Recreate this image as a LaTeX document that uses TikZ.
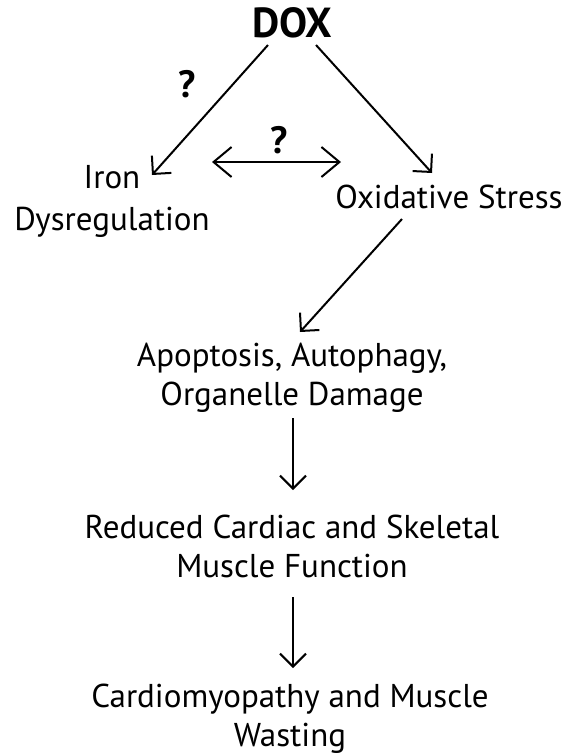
\documentclass[tikz,border=0pt]{standalone}
\usepackage{fontspec}
\setmainfont{PT Sans}
\usetikzlibrary{arrows.meta}

\begin{document}
\begin{tikzpicture}[x=1pt, y=-1pt,
    lbl/.style={font=\fontsize{33}{39}\selectfont, align=center, inner sep=0pt},
    qmark/.style={font=\bfseries\fontsize{38}{38}\selectfont, inner sep=0pt},
    arr/.style={-{Straight Barb[length=13pt, width=26pt, line width=2pt]}, line width=2pt},
    dblarr/.style={{Straight Barb[length=18pt, width=30pt, line width=2pt]}-{Straight Barb[length=18pt, width=30pt, line width=2pt]}, line width=2pt}]
            \useasboundingbox (0, 0) rectangle (567, 756);
            \node[qmark, font=\bfseries\fontsize{42}{42}\selectfont, anchor=base](dox) at (292, 37){DOX};
            \node[qmark, anchor=base](qleft) at (187, 97){?};
            \node[qmark, anchor=base](qmid) at (279, 153){?};
            \node[lbl, font=\fontsize{33}{42}\selectfont, anchor=base](iron) at (112, 230){Iron\\Dysregulation};
            \node[lbl, anchor=base](ox) at (449, 208){Oxidative Stress};
            \node[lbl, anchor=base](apop) at (292, 405){Apoptosis, Autophagy,\\Organelle Damage};
            \node[lbl, anchor=base](func) at (292, 577){Reduced Cardiac and Skeletal\\Muscle Function};
            \node[lbl, anchor=base](wast) at (290, 746){Cardiomyopathy and Muscle\\Wasting};
            \draw[arr]([shift={(-24, 8)}]dox.base)--([shift={(40, -55)}]iron.base);
            \draw[arr]([shift={(24, 8)}]dox.base)--([shift={(-17, -35)}]ox.base);
            \draw[dblarr]([shift={(100, -68)}]iron.base)--([shift={(-108, -46)}]ox.base);
            \draw[arr]([shift={(-47, 11)}]ox.base)--([shift={(8, -73)}]apop.base);
            \draw[arr]([shift={(1, 13)}]apop.base)--([shift={(1, -87)}]func.base);
            \draw[arr]([shift={(1, 20)}]func.base)--([shift={(3, -78)}]wast.base);
        \end{tikzpicture}
\end{document}
